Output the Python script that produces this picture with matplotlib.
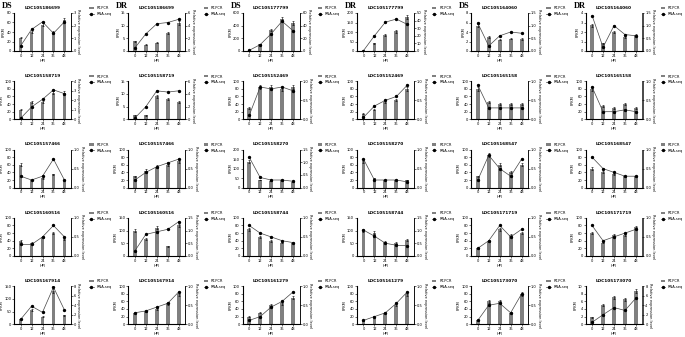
import numpy as np
import matplotlib.pyplot as plt

hpi = ['0', '12', '24', '36', '48']

genes = ['LOC105186699', 'LOC105186699', 'LOC105177799', 'LOC105177799', 'LOC105164060', 'LOC105164060',
         'LOC105158719', 'LOC105158719', 'LOC105152469', 'LOC105152469', 'LOC105165158', 'LOC105165158',
         'LOC105157466', 'LOC105157466', 'LOC105158270', 'LOC105158270', 'LOC105168547', 'LOC105168547',
         'LOC105160516', 'LOC105160516', 'LOC105158744', 'LOC105158744', 'LOC105171719', 'LOC105171719',
         'LOC105167914', 'LOC105167914', 'LOC105161279', 'LOC105161279', 'LOC105173070', 'LOC105173070']

# bars (FPKM, left axis)
fpkm = [[28, 40, 55, 40, 65], [3.8, 2.5, 3.2, 7.2, 11], [5, 110, 330, 510, 440],
        [2, 40, 82, 103, 178], [5.3, 3.0, 2.4, 2.6, 2.5], [2.7, 0.8, 2.0, 1.5, 1.7],
        [25, 46, 46, 70, 70], [1.5, 1.5, 9, 8, 7], [30, 85, 85, 80, 85],
        [15, 25, 45, 50, 80], [80, 45, 40, 40, 40], [80, 35, 30, 40, 30],
        [60, 20, 25, 35, 20], [30, 45, 55, 60, 70], [135, 40, 35, 38, 30],
        [70, 25, 20, 20, 20], [30, 85, 60, 40, 60], [50, 40, 35, 30, 30],
        [40, 35, 50, 60, 45], [100, 65, 112, 38, 120], [70, 50, 40, 35, 35],
        [100, 92, 55, 50, 62], [20, 40, 70, 55, 60], [60, 35, 55, 55, 75],
        [20, 55, 30, 132, 35], [30, 35, 40, 55, 80], [20, 30, 50, 55, 70],
        [10, 20, 30, 50, 80], [10, 60, 60, 30, 80], [1.8, 5.1, 7.1, 6.6, 8.7]]

# line (relative expression, right axis)
rel = [[0.4, 1.7, 2.3, 1.4, 2.3], [0.5, 2.7, 4.3, 4.5, 5.0], [1, 10, 27, 47, 32],
       [0.5, 20, 38, 42, 35], [1.1, 0.2, 0.6, 0.75, 0.7], [1.4, 0.15, 1.0, 0.65, 0.6],
       [0.1, 1.3, 2.1, 3.1, 2.7], [0.2, 2.0, 4.5, 4.3, 4.5], [0.1, 0.85, 0.8, 0.85, 0.75],
       [0.05, 0.35, 0.5, 0.6, 0.9], [0.9, 0.3, 0.3, 0.3, 0.3], [0.85, 0.2, 0.2, 0.25, 0.2],
       [0.3, 0.2, 0.3, 0.75, 0.2], [0.2, 0.4, 0.55, 0.65, 0.75], [1.2, 0.4, 0.3, 0.3, 0.25],
       [0.75, 0.2, 0.2, 0.2, 0.15], [0.2, 0.85, 0.5, 0.3, 0.75], [0.8, 0.5, 0.4, 0.3, 0.3],
       [0.3, 0.3, 0.5, 0.8, 0.5], [0.2, 0.85, 0.95, 1.05, 1.35], [0.8, 0.6, 0.5, 0.4, 0.35],
       [1.02, 0.78, 0.5, 0.42, 0.4], [0.2, 0.4, 0.8, 0.5, 0.7], [0.8, 0.4, 0.5, 0.6, 0.7],
       [1, 3.8, 2.5, 7.8, 3], [0.3, 0.35, 0.45, 0.55, 0.85], [0.1, 0.2, 0.45, 0.6, 0.85],
       [0.1, 0.2, 0.3, 0.55, 0.85], [0.1, 0.5, 0.55, 0.3, 0.8], [0.4, 2.0, 3.5, 2.9, 5.5]]

# axis ranges: (max, tick step)
left_axis = [(80, 20), (15, 5), (600, 200), (200, 50), (8, 2), (4, 1),
             (100, 20), (15, 5), (100, 20), (100, 20), (100, 20), (100, 20),
             (100, 20), (100, 20), (200, 50), (100, 20), (100, 20), (100, 20),
             (100, 20), (150, 50), (100, 20), (150, 50), (100, 20), (100, 20),
             (150, 50), (100, 20), (100, 20), (100, 20), (100, 20), (10, 2)]
right_axis = [(3, 1), (6, 2), (60, 20), (50, 10), (1.5, 0.5), (1.5, 0.5),
              (4, 1), (6, 2), (1, 0.5), (1, 0.5), (1, 0.5), (1, 0.5),
              (1, 0.5), (1, 0.5), (1.5, 0.5), (1, 0.5), (1, 0.5), (1, 0.5),
              (1, 0.5), (1.5, 0.5), (1, 0.5), (1.5, 0.5), (1, 0.5), (1, 0.5),
              (8, 2), (1, 0.5), (1, 0.5), (1, 0.5), (1, 0.5), (8, 2)]

groups = ['DS', 'DR', 'DS', 'DR', 'DS', 'DR']

W, H = 685, 337
fig = plt.figure(figsize=(W / 100, H / 100), dpi=100)
fs = 2.6
x = np.arange(5)


def fmt(v, step):
    return '%g' % v if step >= 1 else '%.1f' % v


for i in range(30):
    r, c = divmod(i, 6)
    left = 14 + 114.3 * c
    top = 13 + 68.3 * r
    ax = fig.add_axes([left / W, 1 - (top + 38) / H, 57 / W, 38 / H])
    bars = ax.bar(x, fpkm[i], width=0.35, color='#808080', label='RT-PCR',
                  yerr=np.array(fpkm[i]) * 0.06, error_kw=dict(lw=0.4, capsize=0.8, capthick=0.4))
    lm, ls = left_axis[i]
    ax.set_ylim(0, lm)
    ax.set_xlim(-0.6, 4.6)
    ax.set_xticks(x)
    ax.set_xticklabels(hpi)
    lt = np.arange(0, lm + ls / 2, ls)
    ax.set_yticks(lt)
    ax.set_yticklabels([fmt(v, ls) for v in lt])
    ax.set_xlabel('HPI', fontsize=fs, labelpad=0.8)
    ax.set_ylabel('FPKM', fontsize=fs, labelpad=0.5)
    ax.set_title(genes[i], fontsize=3.1, fontweight='bold', pad=3)
    ax.tick_params(labelsize=fs, length=1.2, width=0.4, pad=0.8)
    ax.spines['top'].set_visible(False)
    for s in ['left', 'bottom', 'right']:
        ax.spines[s].set_linewidth(0.5)

    ax2 = ax.twinx()
    ln, = ax2.plot(x, rel[i], color='#444444', lw=0.5, marker='o', ms=1.4,
                   mfc='black', mec='black', label='RNA-seq')
    rm, rs = right_axis[i]
    ax2.set_ylim(0, rm)
    rt = np.arange(0, rm + rs / 2, rs)
    ax2.set_yticks(rt)
    ax2.set_yticklabels([fmt(v, rs) for v in rt])
    ax2.set_ylabel('Relative expression level', fontsize=fs, rotation=270, labelpad=3)
    ax2.tick_params(labelsize=fs, length=1.2, width=0.4, pad=0.8)
    ax2.spines['top'].set_visible(False)
    ax2.spines['right'].set_linewidth(0.5)

    fig.legend([bars, ln], ['RT-PCR', 'RNA-seq'], loc='upper left',
               bbox_to_anchor=((left + 72) / W, 1 - (top - 10) / H), frameon=False,
               fontsize=fs, handlelength=1.2, handleheight=0.6, labelspacing=0.5)

for c, g in enumerate(groups):
    fig.text((2 + 114.3 * c) / W, 1 - 6 / H, g, fontsize=6, fontweight='bold',
             family='Liberation Serif', va='center')

fig.savefig('out.png', dpi=100)
